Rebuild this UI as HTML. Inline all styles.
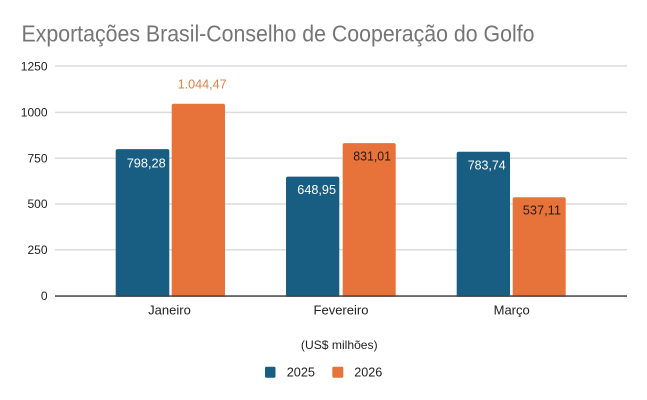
<!DOCTYPE html>
<html>
<head>
<meta charset="utf-8">
<style>
  html, body { margin: 0; padding: 0; background: #ffffff; }
  svg { display: block; }
  text { font-family: "Liberation Sans", Arial, sans-serif; }
</style>
</head>
<body>
<svg width="647" height="400" viewBox="0 0 647 400" xmlns="http://www.w3.org/2000/svg">
  <rect x="0" y="0" width="647" height="400" fill="#ffffff"/>

  <!-- Title -->
  <text x="21.5" y="41.5" font-size="23" fill="#757575" textLength="513" lengthAdjust="spacingAndGlyphs">Exportações Brasil-Conselho de Cooperação do Golfo</text>

  <!-- Gridlines -->
  <g stroke="#dcdcdc" stroke-width="1.5">
    <line x1="55" y1="66" x2="627" y2="66"/>
    <line x1="55" y1="112.4" x2="627" y2="112.4"/>
    <line x1="55" y1="158.2" x2="627" y2="158.2"/>
    <line x1="55" y1="204" x2="627" y2="204"/>
    <line x1="55" y1="249.8" x2="627" y2="249.8"/>
  </g>

  <!-- Bars -->
  <g>
    <rect x="115.7" y="149.1" width="53.6" height="150" rx="2" fill="#185d82"/>
    <rect x="171.7" y="103.8" width="53.3" height="195" rx="2" fill="#e8733a"/>
    <rect x="286" y="176.6" width="53.3" height="122" rx="2" fill="#185d82"/>
    <rect x="342.7" y="143.1" width="53" height="155" rx="2" fill="#e8733a"/>
    <rect x="456.7" y="151.8" width="53.3" height="147" rx="2" fill="#185d82"/>
    <rect x="512.7" y="197.2" width="53" height="101" rx="2" fill="#e8733a"/>
  </g>

  <!-- mask bar bottoms -->
  <rect x="100" y="296.8" width="500" height="4" fill="#ffffff"/>

  <!-- Baseline -->
  <rect x="55" y="295.3" width="572" height="1.5" fill="#444"/>

  <!-- Y labels -->
  <g font-size="12" fill="#222" text-anchor="end">
    <text x="47.5" y="70.3">1250</text>
    <text x="47.5" y="116.5">1000</text>
    <text x="47.5" y="162.3">750</text>
    <text x="47.5" y="208.1">500</text>
    <text x="47.5" y="253.9">250</text>
    <text x="47.5" y="300">0</text>
  </g>

  <!-- Data labels -->
  <g font-size="13">
    <text x="126.7" y="167.3" fill="#ffffff" textLength="39" lengthAdjust="spacingAndGlyphs">798,28</text>
    <text x="177.7" y="88.6" fill="#e0804a" textLength="49" lengthAdjust="spacingAndGlyphs">1.044,47</text>
    <text x="297.3" y="194" fill="#ffffff" textLength="38.7" lengthAdjust="spacingAndGlyphs">648,95</text>
    <text x="353.3" y="160.6" fill="#2a1a10" textLength="37.7" lengthAdjust="spacingAndGlyphs">831,01</text>
    <text x="467.7" y="169.6" fill="#ffffff" textLength="38" lengthAdjust="spacingAndGlyphs">783,74</text>
    <text x="522.7" y="214.6" fill="#2a1a10" textLength="38.3" lengthAdjust="spacingAndGlyphs">537,11</text>
  </g>

  <!-- Category labels -->
  <g font-size="13" fill="#222" text-anchor="middle">
    <text x="169.5" y="314.5">Janeiro</text>
    <text x="341" y="314.5">Fevereiro</text>
    <text x="511.7" y="314.5">Março</text>
  </g>

  <!-- Axis title -->
  <text x="339.3" y="349.2" font-size="12" fill="#222" text-anchor="middle" textLength="76.7" lengthAdjust="spacingAndGlyphs">(US$ milhões)</text>

  <!-- Legend -->
  <rect x="265" y="366.7" width="10.5" height="11" rx="1.5" fill="#185d82"/>
  <text x="286.7" y="376.3" font-size="13" fill="#222" textLength="28.3" lengthAdjust="spacingAndGlyphs">2025</text>
  <rect x="332.3" y="366.7" width="11" height="11" rx="1.5" fill="#e8733a"/>
  <text x="354.3" y="376.3" font-size="13" fill="#222" textLength="28" lengthAdjust="spacingAndGlyphs">2026</text>
</svg>
</body>
</html>
